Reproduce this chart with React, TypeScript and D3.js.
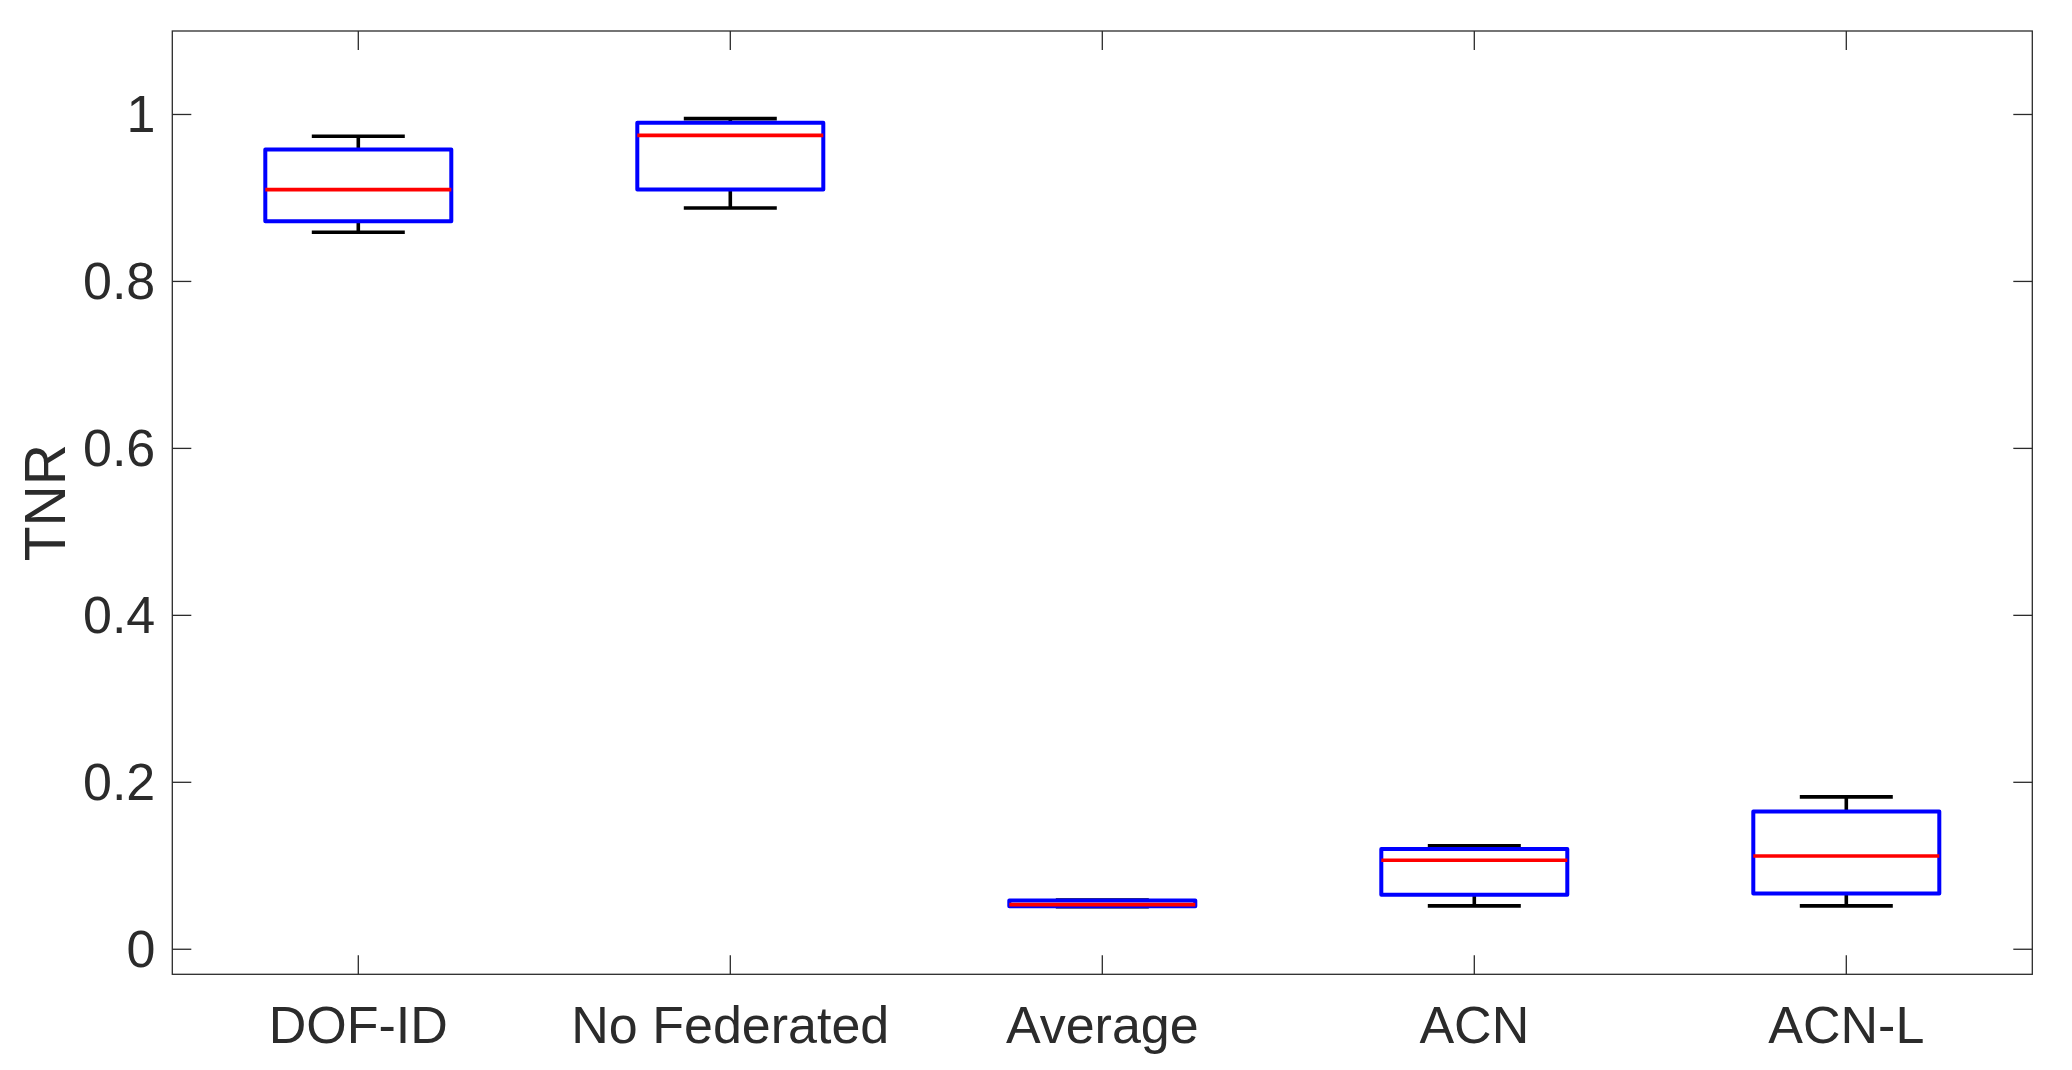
import React from "react";
import * as d3 from "d3";

const categories = ["DOF-ID", "No Federated", "Average", "ACN", "ACN-L"];
const whiskerLow = [0.859, 0.888, 0.051, 0.052, 0.052];
const q1 = [0.872, 0.91, 0.0515, 0.0653, 0.0669];
const medians = [0.91, 0.975, 0.0535, 0.1067, 0.1118];
const q3 = [0.958, 0.99, 0.0585, 0.12, 0.165];
const whiskerHigh = [0.974, 0.995, 0.059, 0.124, 0.1826];
const yTicks = [0, 0.2, 0.4, 0.6, 0.8, 1];

const W = 2072;
const H = 1070;
const left = 172.3;
const right = 2032.3;
const top = 31;
const bottom = 974.3;
const textColor = "#2b2b2b";
const font = "'Liberation Sans', Arial, Helvetica, sans-serif";

export default function App() {
  const x = d3.scaleLinear().domain([0.5, 5.5]).range([left, right]);
  const y = d3.scaleLinear().domain([-0.03, 1.1]).range([bottom, top]);
  const tickLen = 19;
  const boxHalf = 0.25;
  const capHalf = 0.125;

  return (
    <div style={{ position: "absolute", left: 0, top: 0, width: W, height: H, background: "#fff" }}>
      <svg width={W} height={H} style={{ display: "block" }}>
        <rect x={0} y={0} width={W} height={H} fill="#fff" />
        {yTicks.map((t) => (
          <g key={"yt" + t}>
            <line x1={left} x2={left + tickLen} y1={y(t)} y2={y(t)} stroke={textColor} strokeWidth={1.3} />
            <line x1={right} x2={right - tickLen} y1={y(t)} y2={y(t)} stroke={textColor} strokeWidth={1.3} />
            <text x={left - 17} y={y(t)} textAnchor="end" dominantBaseline="central" fontFamily={font} fontSize={52} fill={textColor}>
              {String(t)}
            </text>
          </g>
        ))}
        {categories.map((c, i) => (
          <g key={"xt" + c}>
            <line x1={x(i + 1)} x2={x(i + 1)} y1={bottom} y2={bottom - tickLen} stroke={textColor} strokeWidth={1.3} />
            <line x1={x(i + 1)} x2={x(i + 1)} y1={top} y2={top + tickLen} stroke={textColor} strokeWidth={1.3} />
            <text x={x(i + 1)} y={1042.5} textAnchor="middle" fontFamily={font} fontSize={52} fill={textColor}>
              {c}
            </text>
          </g>
        ))}
        <rect x={left} y={top} width={right - left} height={bottom - top} fill="none" stroke={textColor} strokeWidth={1.3} />
        {categories.map((c, i) => {
          const cx = x(i + 1);
          return (
            <g key={"b" + c}>
              <line x1={cx} x2={cx} y1={y(whiskerHigh[i])} y2={y(q3[i])} stroke="#000" strokeWidth={3.6} />
              <line x1={cx} x2={cx} y1={y(q1[i])} y2={y(whiskerLow[i])} stroke="#000" strokeWidth={3.6} />
              <line x1={x(i + 1 - capHalf)} x2={x(i + 1 + capHalf)} y1={y(whiskerHigh[i])} y2={y(whiskerHigh[i])} stroke="#000" strokeWidth={3.6} />
              <line x1={x(i + 1 - capHalf)} x2={x(i + 1 + capHalf)} y1={y(whiskerLow[i])} y2={y(whiskerLow[i])} stroke="#000" strokeWidth={3.6} />
              <rect
                x={x(i + 1 - boxHalf)}
                y={y(q3[i])}
                width={x(i + 1 + boxHalf) - x(i + 1 - boxHalf)}
                height={y(q1[i]) - y(q3[i])}
                fill="none"
                stroke="#0000ff"
                strokeWidth={4}
                strokeLinejoin="round"
              />
              <line x1={x(i + 1 - boxHalf)} x2={x(i + 1 + boxHalf)} y1={y(medians[i])} y2={y(medians[i])} stroke="#ff0000" strokeWidth={3.6} />
            </g>
          );
        })}
        <text
          transform={`translate(65, ${(top + bottom) / 2}) rotate(-90)`}
          textAnchor="middle"
          fontFamily={font}
          fontSize={57}
          fill={textColor}
        >
          TNR
        </text>
      </svg>
    </div>
  );
}
